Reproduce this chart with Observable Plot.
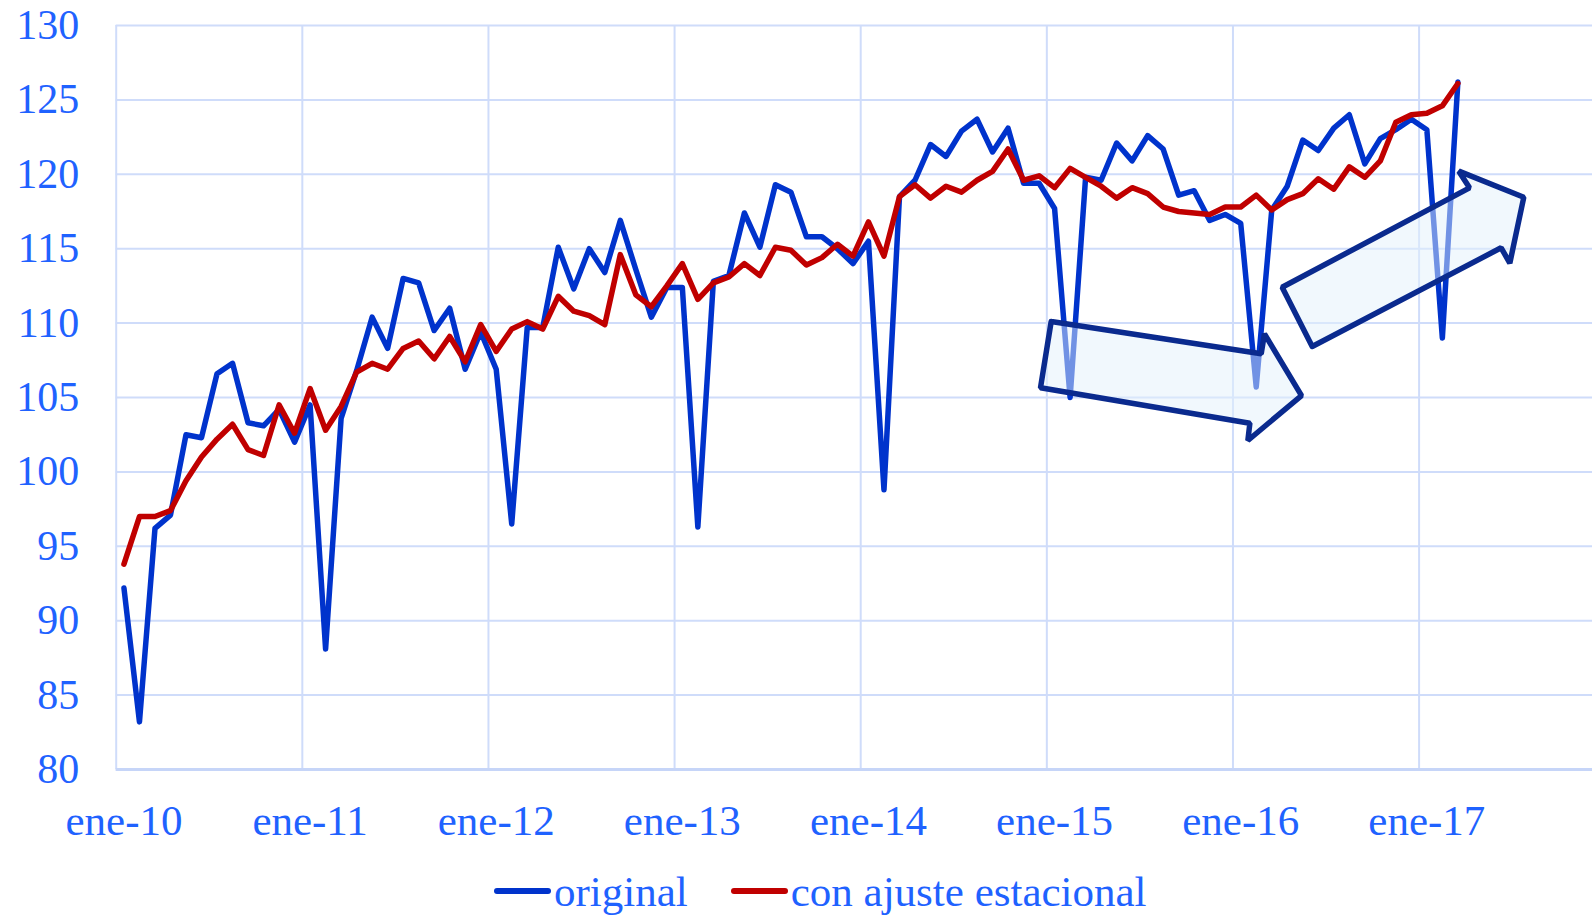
<!DOCTYPE html>
<html>
<head>
<meta charset="utf-8">
<script src="https://cdn.jsdelivr.net/npm/d3@7"></script>
<script src="https://cdn.jsdelivr.net/npm/@observablehq/plot@0.6"></script>
<style>
  html, body { margin: 0; padding: 0; background: #fff; overflow: hidden; }
  #wrap { position: relative; width: 1592px; height: 917px; }
  #legend { position: absolute; left: 494px; top: 866px; font-family: "Liberation Serif", "Times New Roman", serif;
            font-size: 43px; line-height: 52px; color: #1f62ff; white-space: nowrap; }
  #legend .sw { display: inline-block; width: 57px; height: 6px; border-radius: 3px; vertical-align: 0.29em; margin-right: 3px; }
  #legend .item { display: inline-block; }
  #legend .item + .item { margin-left: 43px; }
</style>
</head>
<body>
<div id="wrap">
  <div id="chart"></div>
  <div id="legend"></div>
</div>
<script>
// Tick labels (category axis: one label each January)
const yearLabels = ["ene-10", "ene-11", "ene-12", "ene-13", "ene-14", "ene-15", "ene-16", "ene-17"];
const yTicks = [80, 85, 90, 95, 100, 105, 110, 115, 120, 125, 130];
const seriesNames = ["original", "con ajuste estacional"];

// Monthly values, ene-10 ... mar-17
const original = [
  92.2, 83.2, 96.2, 97.1, 102.5, 102.3, 106.6, 107.3, 103.3, 103.1, 104.2, 102.0,
  104.5, 88.1, 103.6, 106.8, 110.4, 108.3, 113.0, 112.7, 109.5, 111.0, 106.9, 109.4,
  106.9, 96.5, 109.7, 109.7, 115.1, 112.3, 115.0, 113.4, 116.9, 113.6, 110.4, 112.4,
  112.4, 96.3, 112.8, 113.2, 117.4, 115.1, 119.3, 118.8, 115.8, 115.8, 115.0, 114.0,
  115.5, 98.8, 118.5, 119.6, 122.0, 121.2, 122.9, 123.7, 121.5, 123.1, 119.4, 119.4,
  117.7, 105.0, 119.8, 119.6, 122.1, 120.9, 122.6, 121.7, 118.6, 118.9, 116.9, 117.3,
  116.7, 105.7, 117.6, 119.2, 122.3, 121.6, 123.1, 124.0, 120.7, 122.4, 123.0, 123.7,
  123.0, 109.0, 126.2
];
const ajustado = [
  93.8, 97.0, 97.0, 97.4, 99.4, 101.0, 102.2, 103.2, 101.5, 101.1, 104.5, 102.6,
  105.6, 102.8, 104.4, 106.7, 107.3, 106.9, 108.3, 108.8, 107.6, 109.1, 107.4, 109.9,
  108.1, 109.6, 110.1, 109.6, 111.8, 110.8, 110.5, 109.9, 114.6, 111.9, 111.1, 112.5,
  114.0, 111.6, 112.7, 113.1, 114.0, 113.2, 115.1, 114.9, 113.9, 114.4, 115.3, 114.5,
  116.8, 114.5, 118.5, 119.3, 118.4, 119.2, 118.8, 119.6, 120.2, 121.7, 119.6, 119.9,
  119.1, 120.4, 119.8, 119.2, 118.4, 119.1, 118.7, 117.8, 117.5, 117.4, 117.3, 117.8,
  117.8, 118.6, 117.6, 118.3, 118.7, 119.7, 119.0, 120.5, 119.8, 120.9, 123.5, 124.0,
  124.1, 124.6, 126.1
];

// Annotation block arrows, in (month index, value) units
const arrowDown = [
  [59.78, 110.11], [73.32, 107.94], [73.53, 109.28], [75.92, 105.13],
  [72.46, 102.11], [72.59, 103.27], [59.09, 105.65]
];
const arrowUp = [
  [76.61, 108.43], [74.67, 112.41], [86.75, 119.09], [86.06, 120.21],
  [90.25, 118.46], [89.35, 114.03], [88.79, 115.06]
];

const dataO = original.map((v, i) => ({i, v}));
const dataA = ajustado.map((v, i) => ({i, v}));
const labelIdx = yearLabels.map((d, k) => k * 12);
const boundaries = yearLabels.map((d, k) => k * 12 - 0.5);
const closeShape = pts => pts.concat([pts[0]]).map(([i, v]) => ({i, v}));

const gridColor = "#cfdcfa";
const textColor = "#1f62ff";

function defsMark() {
  const ns = "http://www.w3.org/2000/svg";
  const defs = document.createElementNS(ns, "defs");
  const pat = document.createElementNS(ns, "pattern");
  pat.setAttribute("id", "arrowPat");
  pat.setAttribute("patternUnits", "userSpaceOnUse");
  pat.setAttribute("width", "2");
  pat.setAttribute("height", "2");
  const r1 = document.createElementNS(ns, "rect");
  r1.setAttribute("x", "0"); r1.setAttribute("y", "0"); r1.setAttribute("width", "1"); r1.setAttribute("height", "1");
  r1.setAttribute("fill", "#e2f1fb");
  const r2 = document.createElementNS(ns, "rect");
  r2.setAttribute("x", "1"); r2.setAttribute("y", "1"); r2.setAttribute("width", "1"); r2.setAttribute("height", "1");
  r2.setAttribute("fill", "#e2f1fb");
  pat.appendChild(r1); pat.appendChild(r2);
  defs.appendChild(pat);
  return defs;
}

const chart = Plot.plot({
  width: 1592,
  height: 860,
  marginLeft: 115.7,
  marginRight: 0,
  marginTop: 25,
  marginBottom: 91,
  x: {type: "linear", domain: [-0.5, 94.68]},
  y: {domain: [80, 130]},
  style: {fontFamily: "'Liberation Serif', 'Times New Roman', serif", fontSize: "42px", color: textColor, background: "#fff", overflow: "visible"},
  marks: [
    defsMark,
    Plot.ruleY(yTicks, {stroke: gridColor, strokeWidth: 2}),
    Plot.ruleX(boundaries, {stroke: gridColor, strokeWidth: 2}),
    Plot.ruleY([80], {stroke: "#c6d5f8", strokeWidth: 3}),
    Plot.axisY({ticks: yTicks, tickSize: 0, tickPadding: 37, tickFormat: d => String(d), fill: textColor, label: null}),
    Plot.axisX({ticks: labelIdx, tickSize: 0, tickPadding: 35, fontSize: 43, tickFormat: d => yearLabels[Math.round(d / 12)], fill: textColor, label: null}),
    Plot.line(dataO, {x: "i", y: "v", stroke: "#0033cc", strokeWidth: 5.5, strokeLinejoin: "round", strokeLinecap: "round"}),
    Plot.line(dataA, {x: "i", y: "v", stroke: "#c00000", strokeWidth: 5.5, strokeLinejoin: "round", strokeLinecap: "round"}),
    Plot.line(closeShape(arrowDown), {x: "i", y: "v", fill: "url(#arrowPat)", stroke: "#0a2a8e", strokeWidth: 5.5, strokeLinejoin: "miter"}),
    Plot.line(closeShape(arrowUp), {x: "i", y: "v", fill: "url(#arrowPat)", stroke: "#0a2a8e", strokeWidth: 5.5, strokeLinejoin: "miter"})
  ]
});
document.getElementById("chart").appendChild(chart);

const legendColors = ["#0033cc", "#c00000"];
document.getElementById("legend").innerHTML = seriesNames
  .map((n, k) => `<span class="item"><span class="sw" style="background:${legendColors[k]}"></span>${n}</span>`)
  .join("");
</script>
</body>
</html>
